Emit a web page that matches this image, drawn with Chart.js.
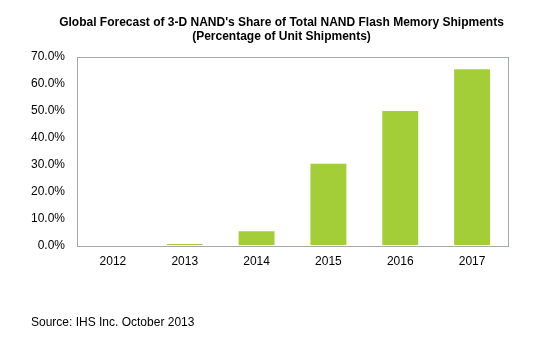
<!DOCTYPE html>
<html>
<head>
<meta charset="utf-8">
<script src="https://cdn.jsdelivr.net/npm/chart.js@4"></script>
<style>
  body { margin: 0; background: #fff; }
  #wrap { width: 542px; height: 341px; }
</style>
</head>
<body>
<div id="wrap"><canvas id="chart"></canvas></div>
<script>
// Chart data
const years = ["2012", "2013", "2014", "2015", "2016", "2017"];
const shares = [0, 0.4, 5.2, 30.2, 49.8, 65.3]; // % of unit shipments
const titleLines = [
    "Global Forecast of 3-D NAND's Share of Total NAND Flash Memory Shipments",
    "(Percentage of Unit Shipments)"
];
const sourceText = "Source: IHS Inc. October 2013";

const FONT = "'Liberation Sans', Arial, sans-serif";

// Gray frame around the plot area
const framePlugin = {
    id: "frame",
    afterDatasetsDraw(chart) {
        const a = chart.chartArea;
        const ctx = chart.ctx;
        ctx.save();
        ctx.strokeStyle = "#a4a9ae";
        ctx.lineWidth = 1;
        ctx.strokeRect(Math.round(a.left) + 0.5, Math.round(a.top) + 0.5,
            Math.round(a.right - a.left), Math.round(a.bottom - a.top));
        ctx.restore();
    }
};

new Chart(document.getElementById("chart"), {
    type: "bar",
    data: {
        labels: years,
        datasets: [{
            data: shares,
            backgroundColor: "#a3ce38",
            categoryPercentage: 1,
            barPercentage: 0.5
        }]
    },
    options: {
        responsive: true,
        maintainAspectRatio: false,
        animation: false,
        layout: { padding: { left: 31, right: 10, top: 0, bottom: 0 } },
        plugins: {
            legend: { display: false },
            tooltip: { enabled: false },
            title: {
                display: true,
                text: titleLines,
                color: "#000",
                font: { family: FONT, size: 12, weight: "bold", lineHeight: 1.15 },
                padding: { top: 16, bottom: 13 }
            },
            subtitle: {
                display: true,
                position: "bottom",
                align: "start",
                text: sourceText,
                color: "#000",
                font: { family: FONT, size: 12, weight: "normal" },
                padding: { top: 38, bottom: 11 }
            }
        },
        scales: {
            x: {
                grid: { display: false, drawTicks: false },
                border: { display: false },
                ticks: { color: "#000", font: { family: FONT, size: 12 }, padding: 9 }
            },
            y: {
                min: 0,
                max: 70,
                grid: { display: false, drawTicks: false },
                border: { display: false },
                ticks: {
                    stepSize: 10,
                    color: "#000",
                    font: { family: FONT, size: 12 },
                    padding: 12,
                    callback: v => v.toFixed(1) + "%"
                },
                afterFit(scale) { scale.width = 46; }
            },
            // empty right-hand spacer so the plot ends where the original does
            yRight: {
                position: "right",
                grid: { display: false, drawTicks: false },
                border: { display: false },
                ticks: { display: false },
                afterFit(scale) { scale.width = 24; }
            }
        }
    },
    plugins: [framePlugin]
});
</script>
</body>
</html>
